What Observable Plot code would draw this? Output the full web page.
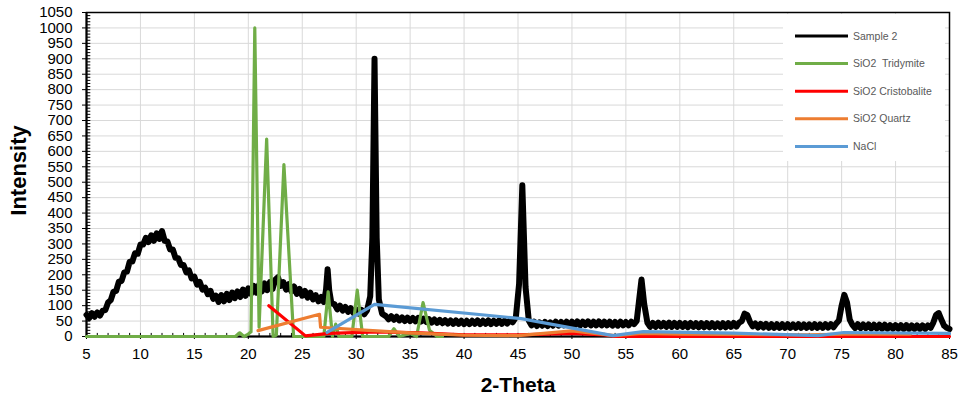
<!DOCTYPE html>
<html>
<head>
<meta charset="utf-8">
<script src="https://cdn.jsdelivr.net/npm/d3@7"></script>
<script src="https://cdn.jsdelivr.net/npm/@observablehq/plot@0.6"></script>
<style>
  html, body { margin: 0; padding: 0; background: #fff; }
  #chart { width: 960px; height: 398px; }
</style>
</head>
<body>
<div id="chart"></div>
<script>
// ---- Data ----
const seriesNames = ["Sample 2", "SiO2  Tridymite", "SiO2 Cristobalite", "SiO2 Quartz", "NaCl"];
const seriesColors = ["#000000", "#70AD47", "#FF0000", "#ED7D31", "#5B9BD5"];

const xTicks = [5, 10, 15, 20, 25, 30, 35, 40, 45, 50, 55, 60, 65, 70, 75, 80, 85];
const yTicks = [0, 50, 100, 150, 200, 250, 300, 350, 400, 450, 500, 550, 600, 650, 700, 750, 800, 850, 900, 950, 1000, 1050];
const xLabel = "2-Theta";
const yLabel = "Intensity";

// Sample 2 : [2-theta, intensity]
const sample2 = [
  [5.00,70],[5.25,60],[5.50,76],[5.75,64],[6.00,78],[6.25,68],[6.50,84],[6.75,86],
  [7.00,110],[7.25,118],[7.50,145],[7.75,148],[8.00,178],[8.25,180],[8.50,208],[8.75,210],
  [9.00,242],[9.25,243],[9.50,270],[9.75,268],[10.00,298],[10.25,298],[10.50,320],[10.75,306],
  [11.00,328],[11.25,310],[11.50,334],[11.75,316],[12.00,342],[12.25,310],[12.50,308],[12.75,282],
  [13.00,282],[13.25,255],[13.50,254],[13.75,232],[14.00,232],[14.25,208],[14.50,214],[14.75,188],
  [15.00,194],[15.25,168],[15.50,177],[15.75,152],[16.00,158],[16.25,137],[16.50,148],[16.75,122],
  [17.00,132],[17.25,112],[17.50,134],[17.75,114],[18.00,138],[18.25,118],[18.50,142],[18.75,124],
  [19.00,146],[19.25,128],[19.50,152],[19.75,132],[20.00,156],[20.25,138],[20.50,164],[20.75,142],
  [21.00,168],[21.25,146],[21.50,172],[21.75,150],[22.00,176],[22.25,154],[22.50,184],[22.75,192],
  [23.00,164],[23.25,176],[23.50,152],[23.75,170],[24.00,146],[24.25,162],[24.50,138],[24.75,154],
  [25.00,132],[25.25,148],[25.50,126],[25.75,142],[26.00,120],[26.25,134],[26.50,114],[26.75,128],
  [27.00,112],[27.20,150],[27.35,218],[27.50,150],[27.70,108],[28.00,104],[28.25,88],[28.50,100],
  [28.75,84],[29.00,96],[29.25,80],[29.50,92],[29.75,76],[30.00,88],[30.25,74],[30.50,86],
  [30.75,72],[31.00,84],[31.30,130],[31.50,320],[31.70,900],[31.90,320],[32.10,120],[32.40,74],
  [32.75,66],[33.00,56],[33.25,66],[33.50,54],[33.75,64],[34.00,52],[34.25,62],[34.50,50],
  [34.75,61],[35.00,50],[35.25,60],[35.50,49],[35.75,60],[36.00,48],[36.25,58],[36.50,47],
  [36.75,56],[37.00,45],[37.25,55],[37.50,44],[37.75,54],[38.00,43],[38.25,53],[38.50,42],
  [38.75,52],[39.00,41],[39.25,52],[39.50,41],[39.75,51],[40.00,40],[40.25,51],[40.50,40],
  [40.75,51],[41.00,41],[41.25,52],[41.50,40],[41.75,51],[42.00,41],[42.25,52],[42.50,40],
  [42.75,51],[43.00,41],[43.25,52],[43.50,41],[43.75,51],[44.00,42],[44.25,52],[44.50,46],
  [44.80,62],[45.10,170],[45.40,490],[45.70,160],[46.00,52],[46.25,36],[46.50,48],[46.75,34],
  [47.00,46],[47.25,35],[47.50,47],[47.75,34],[48.00,46],[48.25,35],[48.50,48],[48.75,35],
  [49.00,47],[49.25,36],[49.50,48],[49.75,36],[50.00,48],[50.25,36],[50.50,49],[50.75,36],
  [51.00,48],[51.25,37],[51.50,49],[51.75,36],[52.00,48],[52.25,36],[52.50,49],[52.75,36],
  [53.00,48],[53.25,36],[53.50,48],[53.75,35],[54.00,47],[54.25,35],[54.50,48],[54.75,36],
  [55.00,47],[55.25,36],[55.50,48],[55.75,40],[56.00,50],[56.20,110],[56.45,185],[56.70,105],
  [57.00,44],[57.25,31],[57.50,44],[57.75,31],[58.00,45],[58.25,32],[58.50,44],[58.75,31],
  [59.00,45],[59.25,31],[59.50,44],[59.75,31],[60.00,44],[60.25,31],[60.50,43],[60.75,30],
  [61.00,44],[61.25,31],[61.50,43],[61.75,30],[62.00,43],[62.25,30],[62.50,43],[62.75,30],
  [63.00,43],[63.25,30],[63.50,42],[63.75,30],[64.00,43],[64.25,30],[64.50,43],[64.75,31],
  [65.00,44],[65.25,32],[65.50,45],[65.75,50],[66.00,74],[66.25,70],[66.50,48],[66.75,33],
  [67.00,42],[67.25,29],[67.50,41],[67.75,29],[68.00,41],[68.25,28],[68.50,40],[68.75,28],
  [69.00,40],[69.25,28],[69.50,40],[69.75,28],[70.00,40],[70.25,28],[70.50,39],[70.75,28],
  [71.00,40],[71.25,28],[71.50,39],[71.75,28],[72.00,39],[72.25,28],[72.50,40],[72.75,28],
  [73.00,39],[73.25,28],[73.50,40],[73.75,29],[74.00,40],[74.25,30],[74.50,42],[74.75,52],
  [75.00,100],[75.25,135],[75.50,110],[75.75,55],[76.00,38],[76.25,27],[76.50,40],[76.75,27],
  [77.00,39],[77.25,27],[77.50,39],[77.75,26],[78.00,38],[78.25,26],[78.50,38],[78.75,25],
  [79.00,38],[79.25,25],[79.50,37],[79.75,25],[80.00,37],[80.25,25],[80.50,37],[80.75,24],
  [81.00,37],[81.25,24],[81.50,36],[81.75,24],[82.00,36],[82.25,24],[82.50,36],[82.75,24],
  [83.00,36],[83.25,28],[83.50,45],[83.75,70],[84.00,76],[84.25,55],[84.50,35],[84.75,28],
  [85.00,24]
];

// SiO2 Tridymite
const tridymite = [
  [5,0],[18.8,0],[19.2,12],[19.6,0],[20.0,8],[20.25,15],[20.6,1000],[21.0,30],[21.7,640],
  [22.3,0],[22.6,5],[23.3,557],[24.2,0],[27.0,0],[27.4,145],[27.8,0],[28.1,40],[28.4,0],
  [29.6,0],[30.1,150],[30.6,0],[33.0,0],[33.5,25],[34.0,0],[35.0,10],[35.6,0],[36.2,110],
  [36.8,20],[37.5,0],[38.0,0]
];

// SiO2 Cristobalite
const cristobalite = [
  [21.9,100],[25.3,2],[27.5,10],[32.0,15],[36.0,12],[40.0,5],[45.0,5],[50.0,10],[53.0,5],
  [54.0,0],[85.0,0]
];

// SiO2 Quartz
const quartz = [
  [20.9,19],[26.6,72],[26.7,30],[30.0,22],[35.0,12],[40.0,4],[45.0,3],[50.0,18],[54.0,3],
  [56.5,10],[60.0,8],[72.0,5],[75.3,8],[81.4,8]
];

// NaCl
const nacl = [
  [27.3,13],[31.7,104],[45.3,58],[53.8,3],[56.6,16],[65.0,11],[72.8,3],[75.2,13],[85.0,10]
];

// Minor tick positions (axis decoration)
const xMinor = d3.range(5, 85.001, 1);
const yMinor = d3.range(0, 1050.001, 10);

const allSeries = [sample2, tridymite, cristobalite, quartz, nacl];

const lineMarks = allSeries.map((s, i) =>
  Plot.line(s, {
    x: d => d[0], y: d => d[1],
    stroke: seriesColors[i],
    strokeWidth: i === 0 ? 6 : 3.2,
    strokeLinejoin: "round",
    strokeLinecap: "round"
  })
);

const chart = Plot.plot({
  width: 960,
  height: 398,
  marginLeft: 86,
  marginRight: 11,
  marginTop: 12,
  marginBottom: 62,
  style: { fontFamily: "'Liberation Sans', Arial, sans-serif", fontSize: "15px", color: "#000", background: "#fff" },
  x: { domain: [5, 85] },
  y: { domain: [0, 1050] },
  marks: [
    Plot.gridX(xTicks, { stroke: "#d9d9d9", strokeOpacity: 1, strokeWidth: 1 }),
    Plot.gridY(yTicks, { stroke: "#d9d9d9", strokeOpacity: 1, strokeWidth: 1 }),
    Plot.axisX(xTicks, { tickSize: 3, tickPadding: 9, label: null, fontSize: 15, tickFormat: d => String(d) }),
    Plot.axisY(yTicks, { tickSize: 4, tickPadding: 10, label: null, fontSize: 15, tickFormat: d => String(d) }),
    Plot.ruleX(xMinor, { y1: 0, y2: 10, stroke: "#000", strokeWidth: 1 }),
    Plot.ruleY(yMinor, { x1: 5, x2: 5.4, stroke: "#000", strokeWidth: 1 }),
    Plot.frame({ stroke: "#000", strokeWidth: 1.5 }),
    Plot.ruleX([5], { stroke: "#000", strokeWidth: 2 }),
    Plot.ruleY([0], { stroke: "#000", strokeWidth: 2 }),
    ...lineMarks,
    Plot.text([yLabel], { frameAnchor: "left", textAnchor: "middle", lineAnchor: "middle", dx: -68, dy: -4, rotate: -90, fontSize: 22, fontWeight: "bold", fill: "#000" }),
    Plot.text([xLabel], { frameAnchor: "bottom", textAnchor: "middle", lineAnchor: "middle", dy: 49, fontSize: 21, fontWeight: "bold", fill: "#000" })
  ]
});

// Legend box drawn inside the plot's SVG
const svg = d3.select(chart);
const lg = svg.append("g").attr("class", "legend").attr("text-anchor", "start");
lg.append("rect").attr("x", 783).attr("y", 14).attr("width", 162).attr("height", 147).attr("fill", "#fff");
seriesNames.forEach((name, i) => {
  const y = 36 + i * 27.6;
  lg.append("line").attr("x1", 795).attr("x2", 848).attr("y1", y).attr("y2", y)
    .attr("stroke", seriesColors[i]).attr("stroke-width", 3);
  lg.append("text").attr("x", 853).attr("y", y).attr("dy", "0.35em")
    .attr("text-anchor", "start")
    .attr("font-size", 10.5).attr("fill", "#595959")
    .attr("font-family", "'Liberation Sans', Arial, sans-serif")
    .style("white-space", "pre")
    .text(name);
});

document.getElementById("chart").appendChild(chart);
</script>
</body>
</html>
